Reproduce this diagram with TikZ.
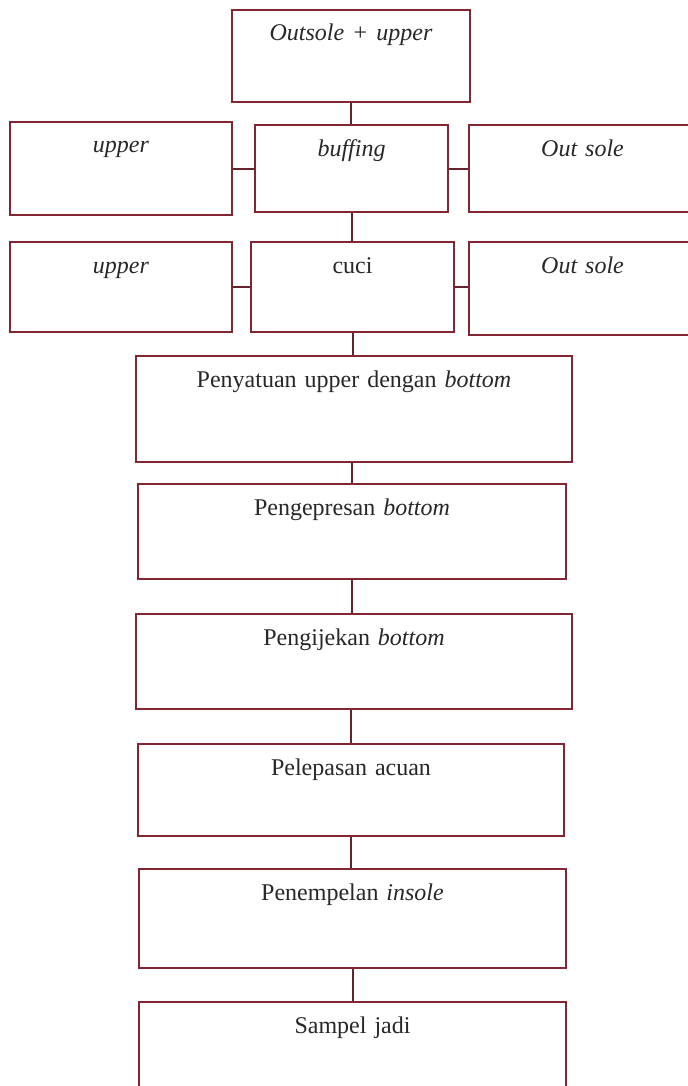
\documentclass[tikz,border=0pt]{standalone}
\usepackage{fontspec}
\setmainfont[WordSpace=0.8]{Liberation Serif}
\definecolor{boxline}{RGB}{130,38,52}
\definecolor{linkline}{RGB}{100,36,46}
\definecolor{txtcol}{RGB}{40,40,40}
\begin{document}
\begin{tikzpicture}[x=0.5pt,y=-0.5pt,
  bx/.style n args={2}{draw=boxline, line width=0.9pt, fill=white, inner sep=0pt,
    text width=#1, text height=15.5pt, text depth=#2, align=center,
    font=\fontsize{12}{14}\selectfont, text=txtcol},
  link/.style={draw=linkline, line width=1pt}]
\useasboundingbox[fill=white] (0,0) rectangle (688,1086);
% row 1
\node[bx={119pt}{30.5pt}] (top) at (351,56) {\textit{Outsole + upper}};
% row 2
\node[bx={111pt}{31pt}] (up2) at (121,168.5) {\textit{upper}};
\node[bx={96.5pt}{28pt}] (buf) at (351.5,168.5) {\textit{buffing}};
\node[bx={113.5pt}{28pt}] (os2) at (582.5,168.5) {\textit{Out sole}};
% row 3
\node[bx={111pt}{29.5pt}] (up3) at (121,287) {\textit{upper}};
\node[bx={101.5pt}{29.5pt}] (cuci) at (352.5,287) {cuci};
\node[bx={113.5pt}{31pt}] (os3) at (582.5,288.5) {\textit{Out sole}};
% main column
\node[bx={218pt}{37.5pt}] (pen) at (354,409) {Penyatuan upper dengan \textit{bottom}};
\node[bx={214pt}{32pt}] (pres) at (352,531.5) {Pengepresan \textit{bottom}};
\node[bx={218pt}{32pt}] (ijek) at (354,661.5) {Pengijekan \textit{bottom}};
\node[bx={213pt}{30.5pt}] (lep) at (351,790) {Pelepasan acuan};
\node[bx={213.5pt}{34pt}] (tem) at (352.5,918.5) {Penempelan \textit{insole}};
\node[bx={213.5pt}{33.5pt}] (samp) at (352.5,1051) {Sampel jadi};
% connectors
\draw[link] (top.south) -- (top.south |- buf.north);
\draw[link] (up2.east) -- (buf.west);
\draw[link] (buf.east) -- (os2.west);
\draw[link] (buf.south) -- (buf.south |- cuci.north);
\draw[link] (up3.east) -- (cuci.west);
\draw[link] (cuci.east) -- (cuci.east -| os3.west);
\draw[link] (cuci.south) -- (cuci.south |- pen.north);
\draw[link] (pres.north |- pen.south) -- (pres.north);
\draw[link] (pres.south) -- (pres.south |- ijek.north);
\draw[link] (lep.north |- ijek.south) -- (lep.north);
\draw[link] (lep.south) -- (lep.south |- tem.north);
\draw[link] (tem.south) -- (tem.south |- samp.north);
\end{tikzpicture}
\end{document}
